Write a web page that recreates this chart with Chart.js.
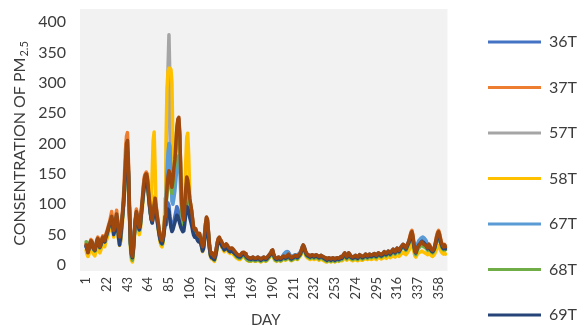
<!DOCTYPE html>
<html>
<head>
<meta charset="utf-8">
<script src="https://cdn.jsdelivr.net/npm/chart.js@4.4.1/dist/chart.umd.min.js"></script>
<style>
  html, body { margin: 0; padding: 0; background: #ffffff; overflow: hidden; width: 587px; height: 325px; }
  #wrap { position: relative; width: 587px; height: 357px; }
  canvas { display: block; }
</style>
</head>
<body>
<div id="wrap"><canvas id="pm" width="587" height="357"></canvas></div>
<script>
// Daily PM2.5 concentration per station, days 1..365
const days = Array.from({ length: 365 }, (_, i) => i + 1);
const tickDays = [1, 22, 43, 64, 85, 106, 127, 148, 169, 190, 211, 232, 253, 274, 295, 316, 337, 358];
const yTicks = [0, 50, 100, 150, 200, 250, 300, 350, 400];

const seriesNames = ['36T', '37T', '57T', '58T', '67T', '68T', '69T', '70T'];
const seriesColors = ['#4472C4', '#ED7D31', '#A5A5A5', '#FFC000', '#5B9BD5', '#70AD47', '#264478', '#9E480E'];

const s36T = [
30,26,22,28,33,36,35,28,24,23,
30,37,42,34,28,31,38,42,41,37,
44,48,54,60,64,70,74,66,52,58,
70,78,66,46,34,40,58,80,98,122,
150,178,185,145,85,35,18,12,26,50,
70,84,76,62,56,64,82,100,118,132,
138,140,138,122,104,88,76,70,80,92,
100,88,76,64,52,42,38,36,42,54,
70,86,96,102,98,80,66,58,64,72,
80,88,96,92,84,76,70,66,62,64,
78,96,108,104,96,86,80,72,62,54,
50,52,48,44,42,46,40,34,26,30,
44,60,70,66,48,30,18,14,16,12,
10,15,24,34,40,42,38,36,32,30,
27,29,31,30,27,25,24,25,25,23,
21,19,18,16,15,14,14,16,18,19,
19,17,15,13,12,11,11,10,11,12,
11,10,10,11,12,11,10,9,10,11,
12,11,10,11,13,15,17,19,22,23,
17,13,11,10,11,12,11,10,11,13,
16,18,20,21,22,21,18,15,13,14,
15,16,17,16,15,17,19,21,24,28,
31,28,23,19,17,16,15,14,15,16,
15,14,15,16,15,14,13,14,15,14,
13,12,11,10,9,10,11,10,9,10,
11,10,9,10,11,11,10,11,13,12,
14,17,19,16,13,15,19,17,14,13,
12,13,14,15,13,12,14,16,15,14,
13,14,15,17,16,14,15,17,16,15,
16,17,18,16,15,17,19,18,17,16,
17,19,21,19,18,20,22,21,19,21,
23,25,23,21,24,27,25,23,26,29,
31,33,32,29,27,31,35,38,42,46,
48,42,32,24,22,28,34,38,40,42,
44,45,44,42,40,36,30,32,30,26,
24,23,25,28,34,40,44,46,42,36,
32,29,28,30,28];

const s37T = [
35,30,22,28,37,42,40,32,29,27,
34,42,46,38,32,36,44,48,47,42,
50,55,60,67,72,80,88,74,60,65,
80,90,76,58,48,55,72,90,115,150,
190,212,218,170,100,42,22,16,32,58,
78,92,84,72,66,74,92,110,130,145,
150,153,150,134,114,98,84,78,88,104,
114,98,85,72,60,50,44,42,48,62,
82,104,128,148,158,152,138,130,142,162,
175,202,226,238,240,212,148,98,78,72,
92,122,142,138,126,108,98,88,74,60,
56,58,54,49,47,51,44,37,29,33,
49,67,78,74,54,34,21,17,19,14,
12,17,27,37,43,45,41,39,35,32,
29,31,34,32,29,27,26,27,27,25,
23,21,19,17,16,15,15,17,19,20,
20,18,15,13,12,11,11,10,11,12,
11,10,10,11,12,11,10,9,10,11,
12,11,10,11,13,15,17,19,23,24,
17,13,11,10,11,12,11,10,11,13,
14,13,12,13,15,17,14,12,11,12,
13,14,15,14,13,15,17,19,23,29,
32,29,23,19,17,16,15,14,15,16,
15,14,15,16,15,14,13,14,15,14,
13,12,11,10,9,10,11,10,9,10,
11,10,9,10,11,11,10,11,13,12,
14,17,19,16,13,15,19,17,14,13,
12,13,14,15,13,12,14,16,15,14,
13,14,15,17,16,14,15,17,16,15,
16,17,18,16,15,17,19,18,17,16,
17,19,21,19,18,20,22,21,19,21,
23,25,23,21,24,27,25,23,26,29,
31,33,32,29,27,31,35,40,47,54,
57,50,36,25,22,27,31,33,35,37,
39,37,35,34,33,31,29,35,33,29,
26,25,27,31,39,48,54,57,52,44,
37,33,31,34,31];

const s57T = [
32,27,21,27,34,39,37,29,26,24,
31,39,43,35,29,33,41,45,44,39,
47,51,57,63,68,74,79,69,56,61,
74,83,71,54,45,51,67,84,105,132,
165,195,200,156,92,39,19,13,29,54,
74,87,79,67,61,69,87,104,123,138,
146,148,143,126,108,93,79,73,84,99,
108,94,81,69,57,47,41,39,45,59,
90,140,220,320,379,300,180,130,138,158,
170,196,220,236,238,210,146,98,78,72,
93,123,143,138,126,108,98,88,73,61,
57,59,54,49,47,51,44,37,29,33,
49,67,78,74,54,34,21,17,19,14,
11,16,27,36,42,44,40,38,34,31,
28,30,33,31,28,26,25,26,26,24,
22,20,18,16,15,14,14,16,18,19,
19,17,14,12,11,10,10,9,10,11,
10,9,9,10,11,10,9,8,9,10,
11,10,9,10,12,14,16,18,22,23,
16,12,10,9,10,11,10,9,10,12,
13,12,11,12,14,16,13,11,10,11,
12,13,14,13,12,14,16,18,22,28,
31,28,22,18,16,15,14,13,14,15,
14,13,14,15,14,13,12,13,14,13,
12,11,10,9,8,9,10,9,8,9,
10,9,8,9,10,10,9,10,12,11,
13,16,18,15,12,14,18,16,13,12,
11,12,13,14,12,11,13,15,14,13,
12,13,14,16,15,13,14,16,15,14,
15,16,17,15,14,16,18,17,16,15,
16,18,20,18,17,19,21,20,18,20,
22,24,22,20,23,26,24,22,25,28,
30,32,31,28,26,30,34,38,44,50,
52,46,34,23,20,25,29,31,33,35,
37,35,33,32,31,29,27,33,31,27,
24,23,25,29,37,45,51,54,49,41,
35,31,29,32,29];

const s58T = [
24,18,14,18,26,30,28,20,17,15,
22,30,34,26,20,24,32,36,35,30,
38,42,48,54,58,64,68,60,46,52,
64,72,60,42,32,38,54,72,92,118,
150,172,178,138,78,28,8,5,20,45,
64,78,70,56,50,58,76,92,110,126,
134,138,135,118,100,86,95,150,205,219,
160,90,72,60,48,38,32,30,36,52,
110,200,290,318,324,324,322,300,200,150,
165,190,215,228,230,200,140,92,72,66,
110,170,210,217,180,120,92,82,66,54,
50,52,47,42,40,44,37,30,22,26,
42,58,68,64,46,26,14,10,12,8,
6,11,20,30,36,38,34,32,28,25,
22,24,27,25,22,20,19,20,20,18,
16,14,12,11,10,9,9,11,13,14,
14,12,10,8,7,6,6,6,7,8,
7,6,6,7,8,7,6,5,6,7,
8,7,6,7,9,11,13,15,18,19,
12,8,7,6,7,8,7,6,7,9,
10,9,8,9,11,13,10,8,7,8,
9,10,11,10,9,11,13,15,18,23,
26,23,18,14,12,11,10,9,10,11,
10,9,10,11,10,9,8,9,10,9,
8,7,6,5,5,6,7,6,5,6,
7,6,5,6,7,7,6,7,8,7,
8,10,12,10,8,9,12,11,9,8,
7,8,9,10,8,7,8,10,9,8,
8,9,10,11,10,9,10,11,10,9,
10,11,12,10,9,11,12,12,11,10,
11,12,13,12,11,13,14,13,12,13,
14,16,14,13,15,17,16,14,16,18,
19,21,20,18,17,19,22,24,28,32,
34,30,22,15,13,16,19,20,21,22,
23,22,21,20,19,18,17,20,19,17,
15,14,16,18,22,27,30,32,29,24,
21,19,18,20,18];

const s67T = [
31,27,23,29,34,37,36,29,25,24,
31,38,43,35,29,32,39,43,42,38,
45,49,55,61,66,72,76,67,54,59,
72,80,68,50,40,46,62,82,100,126,
158,185,190,150,88,37,19,13,27,52,
72,85,77,64,58,66,84,102,120,134,
142,144,140,124,106,90,78,72,82,96,
104,90,78,66,54,44,40,38,44,57,
80,110,150,185,200,196,150,105,100,110,
122,140,160,175,180,160,115,85,72,68,
86,110,128,124,114,98,90,80,68,57,
53,55,51,46,44,48,42,36,28,32,
46,63,74,70,51,32,20,16,18,13,
11,16,26,36,42,44,40,38,34,31,
28,30,33,31,28,26,25,26,26,24,
22,20,19,17,16,15,15,17,19,20,
20,18,16,14,13,12,12,11,12,13,
12,11,11,12,13,12,11,10,11,12,
13,12,11,12,14,16,18,20,23,24,
18,14,12,11,12,13,12,11,12,14,
17,19,21,22,21,20,17,14,13,14,
15,16,17,16,15,17,19,21,25,30,
33,30,24,20,18,17,16,15,16,17,
16,15,16,17,16,15,14,15,16,15,
14,13,12,11,10,11,12,11,10,11,
12,11,10,11,12,12,11,12,14,13,
15,18,20,17,14,16,20,18,15,14,
13,14,15,16,14,13,15,17,16,15,
14,15,16,18,17,15,16,18,17,16,
17,18,19,17,16,18,20,19,18,17,
18,20,22,20,19,21,23,22,20,22,
24,26,24,22,25,28,26,24,27,30,
32,34,33,30,28,32,36,39,44,48,
50,44,33,25,23,29,36,40,42,44,
45,46,45,43,41,37,31,33,31,27,
25,24,26,29,35,41,45,47,43,37,
33,30,29,31,29];

const s68T = [
38,33,24,27,34,38,36,28,25,23,
30,38,42,34,28,32,40,44,43,38,
45,49,55,61,66,71,76,66,54,58,
70,80,68,50,42,48,63,80,100,128,
160,188,192,150,88,34,12,8,24,50,
70,83,75,63,57,65,83,100,118,132,
140,142,138,122,104,89,76,70,80,95,
104,90,77,65,53,43,36,34,40,55,
74,96,118,136,146,142,126,118,130,150,
162,188,212,226,230,202,140,92,72,66,
88,116,136,132,120,103,94,84,70,57,
53,55,50,45,43,47,40,33,25,29,
45,63,74,70,50,30,17,13,15,10,
8,13,23,33,39,41,37,35,31,28,
25,27,30,28,25,23,22,23,23,21,
19,17,15,13,12,11,11,13,15,16,
16,14,11,9,8,7,7,7,8,9,
8,7,7,8,9,8,7,6,7,8,
9,8,7,8,10,12,14,16,20,21,
14,10,8,7,8,9,8,7,8,10,
11,10,9,10,12,14,11,9,8,9,
10,11,12,11,10,12,14,16,20,26,
29,26,20,16,14,13,12,11,12,13,
12,11,12,13,12,11,10,11,12,11,
10,9,8,7,6,7,8,7,6,7,
8,7,6,7,8,8,7,8,10,9,
11,14,16,13,10,12,16,14,11,10,
9,10,11,12,10,9,11,13,12,11,
10,11,12,14,13,11,12,14,13,12,
13,14,15,13,12,14,16,15,14,13,
14,16,18,16,15,17,19,18,16,18,
20,22,20,18,21,24,22,20,23,26,
28,30,29,26,24,28,32,35,40,45,
47,41,30,20,17,22,26,28,30,32,
34,32,30,29,28,26,24,30,28,24,
21,20,22,26,33,40,45,48,43,36,
30,27,25,28,25];

const s69T = [
31,27,21,27,34,38,37,29,26,24,
31,38,42,35,29,33,40,44,43,38,
46,50,56,62,66,72,77,67,50,55,
70,80,66,44,33,44,62,80,100,125,
155,180,186,148,86,36,17,12,27,52,
72,85,77,64,58,66,84,100,116,130,
136,138,135,120,102,87,75,69,78,90,
98,86,74,62,51,42,37,35,41,52,
66,78,88,92,88,74,62,55,58,64,
70,76,82,80,74,68,62,58,55,56,
68,84,96,94,88,78,72,65,56,49,
46,48,44,40,38,42,36,30,23,27,
40,55,64,60,44,27,16,12,14,10,
9,14,22,32,38,40,36,34,30,28,
25,27,29,28,25,23,22,23,23,21,
20,18,17,15,14,13,13,15,17,18,
18,16,14,12,11,10,10,9,10,11,
10,9,9,10,11,10,9,8,9,10,
11,10,9,10,12,14,16,18,21,22,
16,12,10,9,10,11,10,9,10,12,
13,12,11,12,14,16,13,11,10,11,
12,13,14,13,12,14,16,18,22,27,
30,27,22,18,16,15,14,13,14,15,
14,13,14,15,14,13,12,13,14,13,
12,11,10,9,8,9,10,9,8,9,
10,9,8,9,10,10,9,10,12,11,
13,16,18,15,12,14,18,16,13,12,
11,12,13,14,12,11,13,15,14,13,
12,13,14,16,15,13,14,16,15,14,
15,16,17,15,14,16,18,17,16,15,
16,18,20,18,17,19,21,20,18,20,
22,24,22,20,23,26,24,22,25,28,
30,32,31,28,26,30,34,37,42,47,
49,43,32,23,20,25,30,33,35,37,
39,38,37,35,33,30,27,31,29,25,
23,22,24,28,35,42,47,50,45,38,
33,29,27,30,27];

const s70T = [
33,28,20,26,35,40,38,30,27,25,
32,40,44,36,30,34,42,46,45,40,
48,52,58,64,69,75,80,70,57,62,
75,84,72,55,46,52,68,85,107,135,
170,200,205,160,95,40,20,14,30,55,
75,88,80,68,62,70,88,105,125,140,
148,150,145,128,110,95,80,74,85,100,
110,95,82,70,58,48,42,40,46,60,
80,102,125,145,155,150,135,128,140,160,
173,200,225,240,243,215,150,100,80,74,
95,125,145,140,128,110,100,90,75,62,
58,60,55,50,48,52,45,38,30,34,
50,68,79,75,55,35,22,18,20,15,
13,18,28,38,44,46,42,40,36,33,
30,32,35,33,30,28,27,28,28,26,
24,22,20,18,17,16,16,18,20,21,
21,19,16,14,13,12,12,11,12,13,
12,11,11,12,13,12,11,10,11,12,
13,12,11,12,14,16,18,20,24,25,
18,14,12,11,12,13,12,11,12,14,
15,14,13,14,16,18,15,13,12,13,
14,15,16,15,14,16,18,20,24,30,
33,30,24,20,18,17,16,15,16,17,
16,15,16,17,16,15,14,15,16,15,
14,13,12,11,10,11,12,11,10,11,
12,11,10,11,12,12,11,12,14,13,
15,18,20,17,14,16,20,18,15,14,
13,14,15,16,14,13,15,17,16,15,
14,15,16,18,17,15,16,18,17,16,
17,18,19,17,16,18,20,19,18,17,
18,20,22,20,19,21,23,22,20,22,
24,26,24,22,25,28,26,24,27,30,
32,34,33,30,28,32,36,40,46,52,
55,48,35,24,21,26,30,32,34,36,
38,36,34,33,32,30,28,34,32,28,
25,24,26,30,38,46,52,55,50,42,
36,32,30,33,30];

const seriesData = [s36T, s37T, s57T, s58T, s67T, s68T, s69T, s70T];
const legendCount = 7;

const FONT = 'Lato';
const TEXT = '#3c3c3c';
const yTitleMain = 'CONSENTRATION OF PM';
const yTitleSub = '2.5';

// light grey plot panel behind the lines
const plotPanel = {
  id: 'plotPanel',
  beforeDraw(chart) {
    const { ctx, chartArea: a } = chart;
    ctx.save();
    ctx.fillStyle = '#f2f2f2';
    ctx.fillRect(a.left - 6, a.top - 13, a.right - a.left + 8, a.bottom - a.top + 19);
    ctx.restore();
  }
};

// rotated y-axis title with a subscript
const yTitle = {
  id: 'yTitle',
  afterDraw(chart) {
    const { ctx, chartArea: a } = chart;
    ctx.save();
    ctx.translate(19, (a.top + a.bottom) / 2);
    ctx.rotate(-Math.PI / 2);
    ctx.fillStyle = TEXT;
    ctx.textBaseline = 'alphabetic';
    ctx.textAlign = 'left';
    ctx.font = `16px ${FONT}`;
    const w1 = ctx.measureText(yTitleMain).width;
    ctx.font = `11px ${FONT}`;
    const w2 = ctx.measureText(yTitleSub).width;
    const x0 = -(w1 + 1 + w2) / 2;
    ctx.font = `16px ${FONT}`;
    ctx.fillText(yTitleMain, x0, 6);
    ctx.font = `11px ${FONT}`;
    ctx.fillText(yTitleSub, x0 + w1 + 1, 9);
    ctx.restore();
  }
};

const datasets = seriesNames.map((name, i) => ({
  label: name,
  data: seriesData[i],
  borderColor: seriesColors[i],
  backgroundColor: seriesColors[i],
  borderWidth: 3.5,
  pointRadius: 0,
  pointHoverRadius: 0,
  tension: 0,
  borderJoinStyle: 'round',
  borderCapStyle: 'round',
  order: seriesNames.length - 1 - i
}));

new Chart(document.getElementById('pm'), {
  type: 'line',
  data: { labels: days, datasets },
  plugins: [plotPanel, yTitle],
  options: {
    responsive: false,
    animation: false,
    events: [],
    layout: { padding: { left: 0, right: 0, top: 0, bottom: 0 } },
    scales: {
      x: {
        type: 'category',
        grid: { display: false, drawTicks: false },
        border: { display: false },
        ticks: {
          autoSkip: false,
          minRotation: 90,
          maxRotation: 90,
          padding: 12,
          color: TEXT,
          font: { family: FONT, size: 13 },
          callback(value, index) {
            const d = days[index];
            return tickDays.includes(d) ? String(d) : '';
          }
        },
        title: {
          display: true,
          text: 'DAY',
          color: TEXT,
          font: { family: FONT, size: 15 },
          padding: { top: 0, bottom: 28 }
        },
        afterFit(s) { s.height = 92; }
      },
      y: {
        min: 0,
        max: 400,
        grid: { display: false, drawTicks: false },
        border: { display: false },
        ticks: {
          stepSize: 50,
          padding: 20,
          color: TEXT,
          font: { family: FONT, size: 16 }
        },
        afterBuildTicks(s) { s.ticks = yTicks.map(v => ({ value: v })); },
        afterFit(s) { s.width = 86; s.paddingTop = 22; }
      },
      gap: {
        position: 'right',
        display: true,
        grid: { display: false, drawTicks: false },
        border: { display: false },
        ticks: { display: false },
        afterFit(s) { s.width = 13; }
      }
    },
    plugins: {
      tooltip: { enabled: false },
      legend: {
        position: 'right',
        align: 'center',
        maxWidth: 140,
        labels: {
          boxWidth: 53,
          boxHeight: 3,
          padding: 29.5,
          color: TEXT,
          font: { family: FONT, size: 16 },
          sort: (a, b) => a.datasetIndex - b.datasetIndex,
          generateLabels(chart) {
            const items = Chart.defaults.plugins.legend.labels.generateLabels(chart);
            return items
              .filter(it => it.datasetIndex < legendCount)
              .map(it => Object.assign(it, { lineWidth: 0, fillStyle: seriesColors[it.datasetIndex] }));
          }
        }
      }
    }
  }
});
</script>
</body>
</html>
